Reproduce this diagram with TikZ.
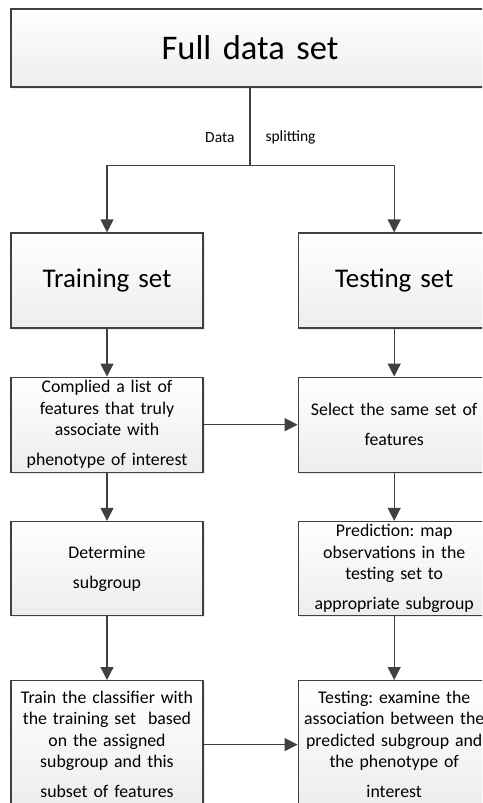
\documentclass[tikz,border=0pt]{standalone}
\usepackage{fontspec}
\setmainfont{Carlito}
\usetikzlibrary{arrows.meta,positioning,shadows}

\definecolor{edgegray}{HTML}{404040}
\definecolor{boxgray}{HTML}{EDEDED}

\tikzset{
    flowbox/.style={draw=edgegray, line width=1.2pt, top color=white, bottom color=boxgray,
        drop shadow={shadow xshift=2pt, shadow yshift=-2pt, fill=black, opacity=0.08},
        text width=186pt, inner xsep=3pt, inner ysep=0pt, align=center, minimum height=95pt,
        font=\fontsize{17.8}{21.5}\selectfont},
    setbox/.style={flowbox, font=\fontsize{27}{32}\selectfont},
    flowline/.style={draw=edgegray, line width=1.3pt},
    flowarrow/.style={flowline, -{Triangle[width=13pt,length=13pt]}}
}

\begin{document}
\frenchspacing
\begin{tikzpicture}
            \useasboundingbox (0,0) rectangle (482pt,-803pt);
            \clip (0,0) rectangle (482pt,-803pt);

            % Full data set on top
            \node [flowbox, text width=472pt, minimum height=78pt, font=\fontsize{34.5}{40}\selectfont] (full) at (250pt,-48pt) {Full data set};

            % Training and testing columns
            \node [setbox] (train) at (107pt,-280.5pt) {Training set};
            \node [setbox, right=94pt of train] (test) {Testing set};

            \node [flowbox, below=48pt of train] (featlist) {Complied a list of\\ features that truly\\ associate with\\[8.5pt] phenotype of interest};
            \node [flowbox, below=48pt of test] (selfeat) {Select the same set of\\[8.5pt] features};

            \node [flowbox, below=48pt of featlist, minimum height=94pt] (subgrp) {Determine\\[8.5pt] subgroup};
            \node [flowbox, below=48pt of selfeat, minimum height=94pt] (predict) {Prediction: map\\ observations in the\\ testing set to\\[8.5pt] appropriate subgroup};

            \node [flowbox, below=64pt of subgrp, minimum height=128pt] (trainclf) {Train the classifier with\\ the training set~~based\\ on the assigned\\ subgroup and this\\[8.5pt] subset of features};
            \node [flowbox, below=64pt of predict, minimum height=128pt] (testing) {Testing: examine the\\ association between the\\ predicted subgroup and\\ the phenotype of\\[8.5pt] interest};

            % Data splitting
            \draw [flowline] (full.south) -- ++(0,-78pt) coordinate (split);
            \draw [flowarrow] (split) -| (train.north);
            \draw [flowarrow] (split) -| (test.north);
            \node [anchor=east, font=\fontsize{15.5}{18}\selectfont] (datalbl) at ([xshift=-12pt, yshift=28pt]split) {Data};
            \node [anchor=west, font=\fontsize{15.5}{18}\selectfont] (splitlbl) at ([xshift=12pt, yshift=28pt]split) {splitting};

            % Steps down each column
            \foreach \a/\b in {train/featlist, featlist/subgrp, subgrp/trainclf, test/selfeat, selfeat/predict, predict/testing} {
                \draw [flowarrow] (\a) -- (\b);
            }
            \draw [flowarrow] (featlist) -- (selfeat);
            \draw [flowarrow] (trainclf) -- (testing);
        \end{tikzpicture}
\end{document}
